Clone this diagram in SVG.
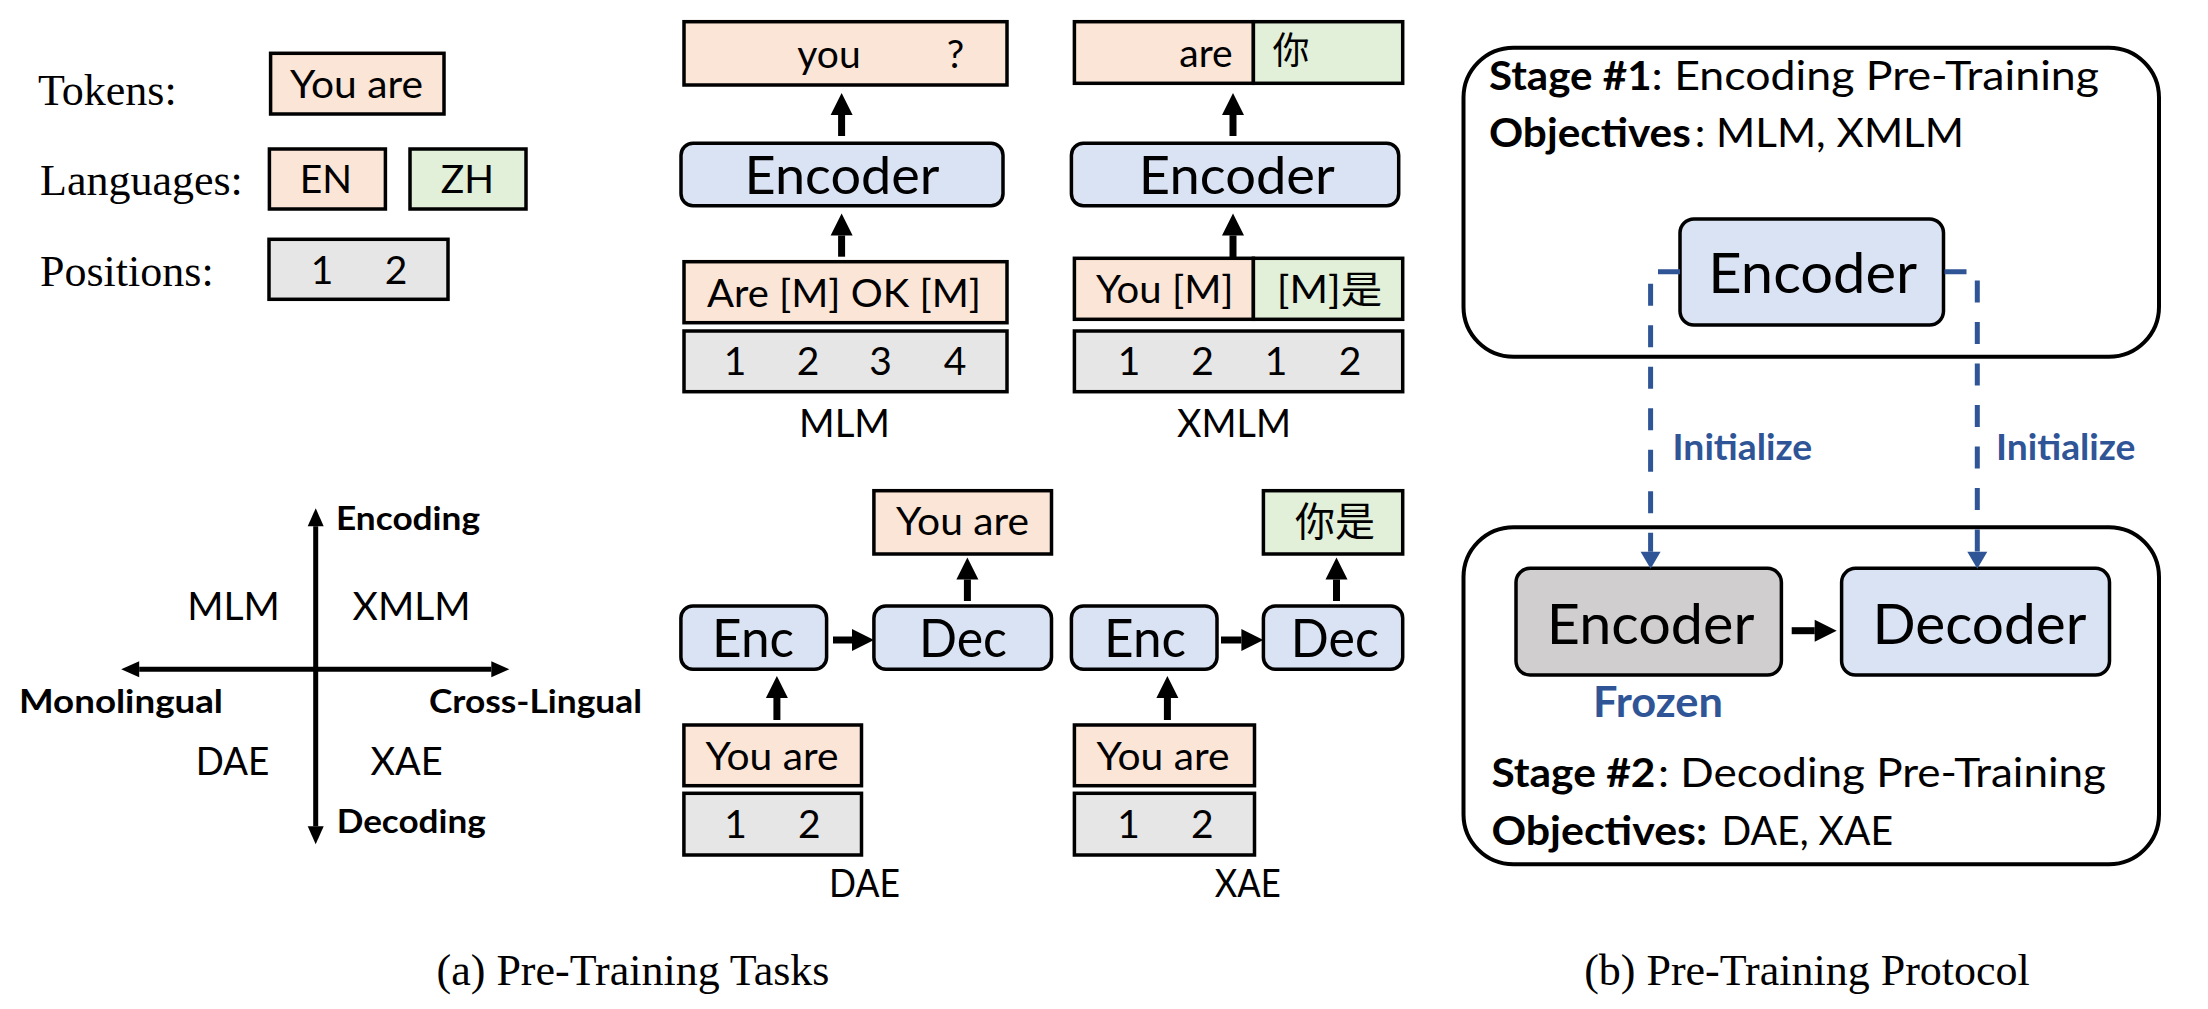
<svg xmlns="http://www.w3.org/2000/svg" width="2208" height="1009" viewBox="0 0 2208 1009">
<defs>
<style>
.t{font-family:Lato,"Open Sans","Noto Sans CJK SC",sans-serif;fill:#000}
.b{font-family:Lato,"Open Sans",sans-serif;font-weight:700;fill:#000}
.tm{font-family:"Liberation Serif","Times New Roman",serif;fill:#000}
.cjk{font-family:"Noto Sans CJK SC",sans-serif;fill:#000}
.blue{fill:#2F5597}
.m{text-anchor:middle}
.box{stroke:#000;stroke-width:3.5}
.pe{fill:#FBE5D6}
.gr{fill:#E2F0D9}
.gy{fill:#E7E6E6}
.bu{fill:#DAE3F3}
.fz{fill:#D0CECE}
.stg{fill:#fff;stroke:#000;stroke-width:4}
.arr{stroke:#000;stroke-width:7;fill:none;marker-end:url(#bk)}
.axis{stroke:#000;stroke-width:5;fill:none;marker-start:url(#ax);marker-end:url(#ax)}
.dash{stroke:#2F5597;stroke-width:5;fill:none;stroke-dasharray:22 19.5;marker-end:url(#bl)}
</style>
<marker id="bk" markerUnits="userSpaceOnUse" markerWidth="23" markerHeight="22" refX="0" refY="11" orient="auto" overflow="visible"><path d="M0,0 L22,11 L0,22 z" fill="#000"/></marker>
<marker id="ax" markerUnits="userSpaceOnUse" markerWidth="18" markerHeight="16" refX="0" refY="8" orient="auto-start-reverse" overflow="visible"><path d="M0,0 L18,8 L0,16 z" fill="#000"/></marker>
<marker id="bl" markerUnits="userSpaceOnUse" markerWidth="17" markerHeight="20" refX="0" refY="10" orient="auto" overflow="visible"><path d="M0,0 L17,10 L0,20 z" fill="#2F5597"/></marker>
</defs>
<rect width="2208" height="1009" fill="#fff"/>

<!-- Legend -->
<g id="legend">
<text class="tm" x="38" y="105" font-size="44">Tokens:</text>
<text class="tm" x="40" y="195" font-size="44">Languages:</text>
<text class="tm" x="40" y="286" font-size="44">Positions:</text>
<g id="legend-tokens"><rect class="box pe" x="270.6" y="53.3" width="173.4" height="60.7"/><text class="t m" x="356.5" y="98.3" font-size="39" textLength="133" lengthAdjust="spacingAndGlyphs">You are</text></g>
<g id="legend-en"><rect class="box pe" x="269.4" y="149" width="116" height="60"/><text class="t m" x="326" y="192.7" font-size="39">EN</text></g>
<g id="legend-zh"><rect class="box gr" x="410" y="149" width="116" height="60"/><text class="t m" x="467.5" y="192.7" font-size="39">ZH</text></g>
<g id="legend-pos"><rect class="box gy" x="269" y="239.3" width="179" height="60"/><text class="t m" x="322" y="284" font-size="39">1</text><text class="t m" x="396" y="284" font-size="39">2</text></g>
</g>

<!-- Axis quadrant -->
<g id="quadrant">
<text class="b" x="336" y="530" font-size="33" textLength="144" lengthAdjust="spacingAndGlyphs">Encoding</text>
<text class="t m" x="233.6" y="620" font-size="39" textLength="92.6" lengthAdjust="spacingAndGlyphs">MLM</text>
<text class="t m" x="411.6" y="620" font-size="39" textLength="118" lengthAdjust="spacingAndGlyphs">XMLM</text>
<text class="b" x="19" y="713.3" font-size="33" textLength="204" lengthAdjust="spacingAndGlyphs">Monolingual</text>
<text class="b" x="429" y="713.3" font-size="33" textLength="213" lengthAdjust="spacingAndGlyphs">Cross-Lingual</text>
<text class="t m" x="232.5" y="775" font-size="39" textLength="73.7" lengthAdjust="spacingAndGlyphs">DAE</text>
<text class="t m" x="406.6" y="775" font-size="39" textLength="72.4" lengthAdjust="spacingAndGlyphs">XAE</text>
<text class="b" x="336.7" y="833.3" font-size="33" textLength="149" lengthAdjust="spacingAndGlyphs">Decoding</text>
</g>

<!-- MLM -->
<g id="mlm-out"><rect class="box pe" x="684" y="21.7" width="323" height="63.3"/><text class="t m" x="829" y="68.3" font-size="39">you</text><text class="t m" x="955.5" y="68.3" font-size="39">?</text></g>
<g id="mlm-encoder"><rect class="box bu" x="681" y="143.3" width="322" height="62.4" rx="12"/><text class="t m" x="842" y="194.3" font-size="52" textLength="195" lengthAdjust="spacingAndGlyphs">Encoder</text></g>
<g id="mlm-in"><rect class="box pe" x="684" y="261.7" width="323" height="61"/><text class="t m" x="844" y="306.7" font-size="38" textLength="274" lengthAdjust="spacingAndGlyphs">Are [M] OK [M]</text></g>
<g id="mlm-pos"><rect class="box gy" x="684" y="331" width="323" height="60.7"/><text class="t m" x="735" y="375" font-size="39">1</text><text class="t m" x="808" y="375" font-size="39">2</text><text class="t m" x="880.5" y="375" font-size="39">3</text><text class="t m" x="955" y="375" font-size="39">4</text></g>
<text id="mlm-label" class="t m" x="844.5" y="436.7" font-size="39" textLength="91" lengthAdjust="spacingAndGlyphs">MLM</text>

<!-- XMLM -->
<g id="xmlm-out"><rect class="box pe" x="1074.4" y="21.7" width="179" height="61.6"/><rect class="box gr" x="1253.4" y="21.7" width="149.3" height="61.6"/><text class="t m" x="1206" y="66.5" font-size="39">are</text><text class="cjk m" x="1291" y="64" font-size="37">你</text></g>
<g id="xmlm-encoder"><rect class="box bu" x="1071.4" y="143.3" width="327.3" height="62.4" rx="12"/><text class="t m" x="1236.8" y="194.3" font-size="52" textLength="196" lengthAdjust="spacingAndGlyphs">Encoder</text></g>
<g id="xmlm-in"><rect class="box pe" x="1074.4" y="258.3" width="179" height="61"/><rect class="box gr" x="1253.4" y="258.3" width="149.3" height="61"/><text class="t m" x="1164.8" y="303.3" font-size="38" textLength="137.6" lengthAdjust="spacingAndGlyphs">You [M]</text><text class="t m" x="1329.5" y="303.3" font-size="38" textLength="105.5" lengthAdjust="spacingAndGlyphs">[M]<tspan class="cjk">是</tspan></text></g>
<g id="xmlm-pos"><rect class="box gy" x="1074.4" y="331" width="328.3" height="60.7"/><text class="t m" x="1129" y="375" font-size="39">1</text><text class="t m" x="1202.5" y="375" font-size="39">2</text><text class="t m" x="1276" y="375" font-size="39">1</text><text class="t m" x="1350" y="375" font-size="39">2</text></g>
<text id="xmlm-label" class="t m" x="1234" y="436.7" font-size="39" textLength="113.8" lengthAdjust="spacingAndGlyphs">XMLM</text>

<!-- DAE -->
<g id="dae-out"><rect class="box pe" x="873.9" y="490.7" width="177.6" height="63.3"/><text class="t m" x="962.6" y="535" font-size="39" textLength="133" lengthAdjust="spacingAndGlyphs">You are</text></g>
<g id="dae-enc"><rect class="box bu" x="680.9" y="606" width="145.7" height="63.3" rx="12"/><text class="t m" x="753" y="656.7" font-size="52" textLength="82" lengthAdjust="spacingAndGlyphs">Enc</text></g>
<g id="dae-dec"><rect class="box bu" x="873.9" y="606" width="177.6" height="63.3" rx="12"/><text class="t m" x="963" y="656.7" font-size="52" textLength="88" lengthAdjust="spacingAndGlyphs">Dec</text></g>
<g id="dae-in"><rect class="box pe" x="683.9" y="725" width="177.6" height="60.7"/><text class="t m" x="772" y="770" font-size="39" textLength="133" lengthAdjust="spacingAndGlyphs">You are</text></g>
<g id="dae-pos"><rect class="box gy" x="683.9" y="793.3" width="177.6" height="61.7"/><text class="t m" x="735.6" y="838.3" font-size="39">1</text><text class="t m" x="809.2" y="838.3" font-size="39">2</text></g>
<text id="dae-label" class="t m" x="864.5" y="897.3" font-size="39" textLength="70.8" lengthAdjust="spacingAndGlyphs">DAE</text>

<!-- XAE -->
<g id="xae-out"><rect class="box gr" x="1263.4" y="490.7" width="139.3" height="63.3"/><text class="cjk m" x="1335" y="536" font-size="40">你是</text></g>
<g id="xae-enc"><rect class="box bu" x="1071.4" y="606" width="145.6" height="63.3" rx="12"/><text class="t m" x="1145" y="656.7" font-size="52" textLength="82" lengthAdjust="spacingAndGlyphs">Enc</text></g>
<g id="xae-dec"><rect class="box bu" x="1263.4" y="606" width="139.3" height="63.3" rx="12"/><text class="t m" x="1334.8" y="656.7" font-size="52" textLength="88" lengthAdjust="spacingAndGlyphs">Dec</text></g>
<g id="xae-in"><rect class="box pe" x="1074.4" y="725" width="180.1" height="60.7"/><text class="t m" x="1163" y="770" font-size="39" textLength="133" lengthAdjust="spacingAndGlyphs">You are</text></g>
<g id="xae-pos"><rect class="box gy" x="1074.4" y="793.3" width="180.1" height="61.7"/><text class="t m" x="1128.6" y="838.3" font-size="39">1</text><text class="t m" x="1202.2" y="838.3" font-size="39">2</text></g>
<text id="xae-label" class="t m" x="1247.7" y="897.3" font-size="39" textLength="66" lengthAdjust="spacingAndGlyphs">XAE</text>

<!-- Stage 1 -->
<g id="stage1">
<rect class="stg" x="1463.5" y="47.7" width="695.5" height="309" rx="50"/>
<text class="b" x="1489" y="90" font-size="40" textLength="162.6" lengthAdjust="spacingAndGlyphs">Stage #1</text>
<text class="t" x="1651.6" y="90" font-size="40" textLength="447.4" lengthAdjust="spacingAndGlyphs">: Encoding Pre-Training</text>
<text class="b" x="1489" y="146.7" font-size="40" textLength="201.8" lengthAdjust="spacingAndGlyphs">Objectives</text>
<text class="t" x="1694.7" y="146.7" font-size="40" textLength="269.3" lengthAdjust="spacingAndGlyphs">: MLM, XMLM</text>
</g>
<g id="stage1-encoder"><rect class="box bu" x="1680" y="219" width="263.5" height="106" rx="14"/><text class="t m" x="1812.7" y="293.3" font-size="56" textLength="209" lengthAdjust="spacingAndGlyphs">Encoder</text></g>

<!-- Stage 2 -->
<g id="stage2">
<rect class="stg" x="1463.5" y="527.3" width="695.5" height="337" rx="50"/>
<text class="b blue m" x="1657.9" y="716.7" font-size="42" textLength="130" lengthAdjust="spacingAndGlyphs">Frozen</text>
<text class="b" x="1491.4" y="786.7" font-size="40" textLength="164" lengthAdjust="spacingAndGlyphs">Stage #2</text>
<text class="t" x="1658" y="786.7" font-size="40" textLength="448" lengthAdjust="spacingAndGlyphs">: Decoding Pre-Training</text>
<text class="b" x="1491.4" y="845" font-size="40" textLength="215.6" lengthAdjust="spacingAndGlyphs">Objectives:</text>
<text class="t" x="1721.6" y="845" font-size="40" textLength="171.4" lengthAdjust="spacingAndGlyphs">DAE, XAE</text>
</g>
<g id="stage2-encoder"><rect class="box fz" x="1516" y="568.3" width="265.4" height="106.7" rx="14"/><text class="t m" x="1650.6" y="644" font-size="56" textLength="207.6" lengthAdjust="spacingAndGlyphs">Encoder</text></g>
<g id="stage2-decoder"><rect class="box bu" x="1841.6" y="568.3" width="267.9" height="106.7" rx="14"/><text class="t m" x="1979.5" y="644" font-size="56" textLength="214" lengthAdjust="spacingAndGlyphs">Decoder</text></g>

<!-- Connectors -->
<g id="connectors">
<path class="arr" d="M841.6,136 V115"/>
<path class="arr" d="M841.6,256.7 V235.5"/>
<path class="arr" d="M1233,136 V115"/>
<path class="arr" d="M1233,258.3 V235.5"/>
<path class="arr" d="M967.4,601 V579.5"/>
<path class="arr" d="M833,640 H852"/>
<path class="arr" d="M776.9,720 V698"/>
<path class="arr" d="M1336.5,601 V579.5"/>
<path class="arr" d="M1221,640 H1241.4"/>
<path class="arr" d="M1167.4,720 V698"/>
<path class="arr" d="M1791.7,630.7 H1814.7"/>
<path class="axis" d="M315.7,826.3 V526.3"/>
<path class="axis" d="M139.2,669.3 H491.3"/>
<path class="dash" d="M1680,271.7 H1650.6 V551.7"/>
<path class="dash" d="M1944.5,271.7 H1977.3 V551.7"/>
<text class="b blue" x="1672.6" y="460" font-size="36" textLength="139.6" lengthAdjust="spacingAndGlyphs">Initialize</text>
<text class="b blue" x="1996" y="460" font-size="36" textLength="139.5" lengthAdjust="spacingAndGlyphs">Initialize</text>
</g>

<!-- Captions -->
<text class="tm m" x="633" y="985" font-size="44">(a) Pre-Training Tasks</text>
<text class="tm m" x="1807" y="985" font-size="44">(b) Pre-Training Protocol</text>
</svg>
